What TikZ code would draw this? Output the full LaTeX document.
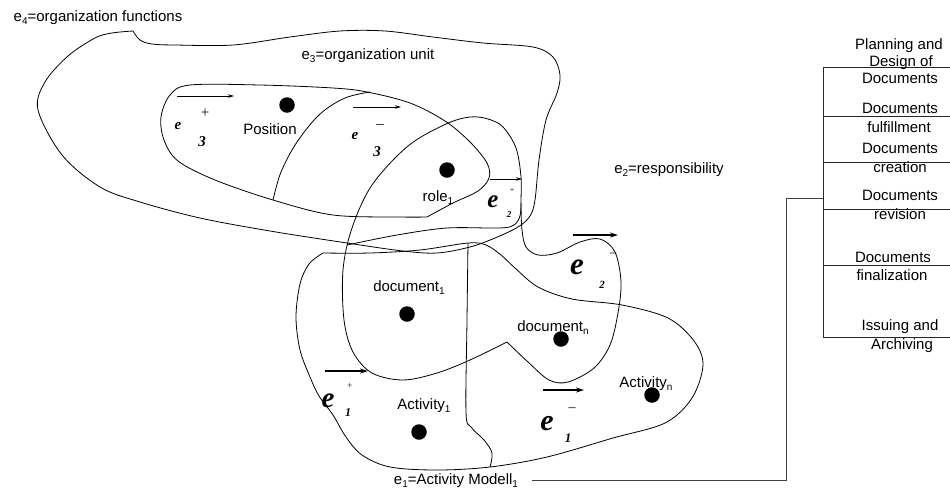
\documentclass[tikz,border=0pt]{standalone}
\usepackage{fontspec}
\setmainfont{Liberation Sans}
\newfontfamily\serifbi{Liberation Serif}
\usetikzlibrary{arrows.meta}
% small lowered index inside sans labels
\newcommand\lsub[1]{\raisebox{-0.45ex}{\fontsize{10}{10}\selectfont #1}}
% bold italic serif used for the hyperedge symbols
\newcommand\efnt[1]{\serifbi\bfseries\itshape\fontsize{#1}{#1}\selectfont}
\newcommand\mfnt[1]{\serifbi\fontsize{#1}{#1}\selectfont}

\begin{document}
\begin{tikzpicture}[x=1pt,y=-1pt,
  every node/.style={inner sep=0pt,outer sep=0pt},
  lbl/.style={font=\fontsize{15}{18}\selectfont,text height=11pt,text depth=3pt},
  hedge/.style={line width=0.8pt},
  dot/.style={circle,fill=black,minimum size=15.5pt},
  thinarrow/.style={line width=0.8pt,-{Stealth[length=6pt,width=3.5pt]}},
  thickarrow/.style={line width=1.4pt,-{Stealth[length=8pt,width=5pt]}},
  conn/.style={line width=0.9pt,black!75},
  tab/.style={line width=0.9pt,black!85}]
\useasboundingbox (0,0) rectangle (950,491);

% ---------- e4: organization functions ----------
\draw[hedge] plot[smooth,tension=0.55] coordinates {
  (133,31) (140,40) (152,44) (175,45) (233,45) (290,37) (340,31) (385,31)
  (433,37) (483,43) (533,47) (553,57) (560,75) (557,93) (546,120) (539,160)
  (535,200) (530,216) (518,227) (495,238) (470,247) (437,253) (403,251)
  (347,243) (270,231) (200,218) (140,202) (100,187) (62,155) (38,110)
  (45,82) (68,56) (95,38) (112,33) (133,31)};

% ---------- e3: organization unit ----------
\draw[hedge] plot[smooth,tension=0.55] coordinates {
  (427,217) (453,203) (478,191) (489,178) (487,163) (470,142) (445,121)
  (410,103) (367,92) (333,88) (260,85) (190,85) (170,95) (161,117)
  (164,140) (178,161) (215,180) (273,200) (333,215) (400,217) (427,217)};
% split of e3 into e3+ / e3-
\draw[hedge] plot[smooth,tension=0.55] coordinates {
  (273,200) (281,172) (297,142) (320,114) (345,98) (370,92)};

% ---------- e2: responsibility ----------
\draw[hedge] plot[smooth,tension=0.55] coordinates {
  (507,342) (528,362) (549,380) (568,382) (594,368) (610,345) (618,313)
  (621,282) (615,252) (600,239) (580,242) (557,253) (538,255) (526,247)
  (522,230) (521,205) (521,177) (516,148) (503,127) (488,119) (470,117)
  (446,124) (408,146) (372,185) (352,228) (343,270) (344,320) (353,352)
  (372,373) (403,380) (437,373) (470,360) (507,342)};
% split of e2 into e2+ / e2-
\draw[hedge] plot[smooth,tension=0.55] coordinates {
  (347,245) (397,235) (447,228) (500,228) (514,225) (520,216) (521,203)};

% ---------- e1: activity model ----------
\draw[hedge] plot[smooth,tension=0.55] coordinates {
  (323,253) (309,264) (300,284) (296,317) (300,350) (310,377) (319,396)
  (333,415) (346,437) (362,455) (390,467) (437,470) (490,467) (547,457)
  (613,438) (665,423) (692,398) (703,365) (694,341) (668,318) (622,305)
  (572,299) (538,287) (515,268) (501,255) (486,245) (468,243) (420,250)
  (370,253) (323,253)};
% split of e1 into e1+ / e1-
\draw[hedge] plot[smooth,tension=0.55] coordinates {
  (468,243) (467,320) (466,412) (471,427) (484,440) (492,453) (490,467)};

% ---------- vertices ----------
\node[dot] (vpos) at (287,105) {};
\node[dot] (vrole) at (447,170) {};
\node[dot] (vdoc1) at (407,314) {};
\node[dot] (vdocn) at (561,339) {};
\node[dot] (vact1) at (419,432) {};
\node[dot] (vactn) at (652,395) {};

\node[lbl] (tpos) at (270,130) {Position};
\node[lbl] (trole) at (438,197) {role\lsub{1}};
\node[lbl] (tdoc1) at (409,287) {document\lsub{1}};
\node[lbl] (tdocn) at (553,327) {document\lsub{n}};
\node[lbl] (tact1) at (424,405) {Activity\lsub{1}};
\node[lbl] (tactn) at (646,383) {Activity\lsub{n}};

% ---------- hyperedge names ----------
\node[lbl] (e4lbl) at (98,17) {e\lsub{4}=organization functions};
\node[lbl] (e3lbl) at (368,55) {e\lsub{3}=organization unit};
\node[lbl] (e2lbl) at (669,169) {e\lsub{2}=responsibility};
\node[lbl] (e1lbl) at (456,480) {e\lsub{1}=Activity Modell\lsub{1}};

% ---------- direction arrows ----------
\coordinate (a3p) at (177,96);  \coordinate (b3p) at (234,96);
\coordinate (a3m) at (353,107); \coordinate (b3m) at (401,107);
\coordinate (a2p) at (490,179); \coordinate (b2p) at (522,179);
\coordinate (a2m) at (573,235); \coordinate (b2m) at (618,235);
\coordinate (a1p) at (325,371); \coordinate (b1p) at (368,371);
\coordinate (a1m) at (543,390); \coordinate (b1m) at (584,390);
\draw[thinarrow] (a3p) -- (b3p);
\draw[thinarrow] (a3m) -- (b3m);
\draw[thinarrow] (a2p) -- (b2p);
\draw[thickarrow] (a2m) -- (b2m);
\draw[thickarrow] (a1p) -- (b1p);
\draw[thickarrow] (a1m) -- (b1m);

% ---------- signed edge symbols ----------
\node[font=\efnt{15}] (s3pe) at (178,126) {e};
\node[font=\mfnt{15}] (s3ps) at (205,113) {+};
\node[font=\efnt{15}] (s3pi) at (202,142) {3};

\node[font=\efnt{15}] (s3me) at (355,136) {e};
\node[font=\mfnt{15}] (s3ms) at (380,127) {–};
\node[font=\efnt{15}] (s3mi) at (377,152) {3};

\node[font=\efnt{25}] (s2pe) at (493,202) {e};
\node[font=\mfnt{8}] (s2ps) at (512,190) {+};
\node[font=\efnt{9}] (s2pi) at (509,215) {2};

\node[font=\efnt{31}] (s2me) at (577,267) {e};
\node[font=\mfnt{13}] (s2ms) at (613,255) {–};
\node[font=\efnt{11}] (s2mi) at (602,285) {2};

\node[font=\efnt{29}] (s1pe) at (328,401) {e};
\node[font=\mfnt{9}] (s1ps) at (350,386) {+};
\node[font=\efnt{12}] (s1pi) at (348,413) {1};

\node[font=\efnt{30}] (s1me) at (547,424) {e};
\node[font=\mfnt{14}] (s1ms) at (572,410) {–};
\node[font=\efnt{13}] (s1mi) at (568,438) {1};

% ---------- phase table ----------
\draw[tab] (823,67) -- (823,337);
\foreach \yy in {67,116,162,209,265,337} \draw[tab] (823,\yy) -- (950,\yy);
\node[lbl] (r1) at (899,45) {Planning and};
\node[lbl] (r2) at (901,62) {Design of};
\node[lbl] (r3) at (900,79) {Documents};
\node[lbl] (r4) at (900,109) {Documents};
\node[lbl] (r5) at (899,128) {fulfillment};
\node[lbl] (r6) at (900,149) {Documents};
\node[lbl] (r7) at (900,168) {creation};
\node[lbl] (r8) at (900,196) {Documents};
\node[lbl] (r9) at (900,215) {revision};
\node[lbl] (r10) at (893,258) {Documents};
\node[lbl] (r11) at (892,276) {finalization};
\node[lbl] (r12) at (900,326) {Issuing and};
\node[lbl] (r13) at (902,345) {Archiving};

% link from the activity model to the table
\coordinate (jn) at (786,198);
\coordinate (bk) at (823,198);
\draw[conn] ([xshift=14pt]e1lbl.east) -| (jn) -- (bk);
\end{tikzpicture}
\end{document}
